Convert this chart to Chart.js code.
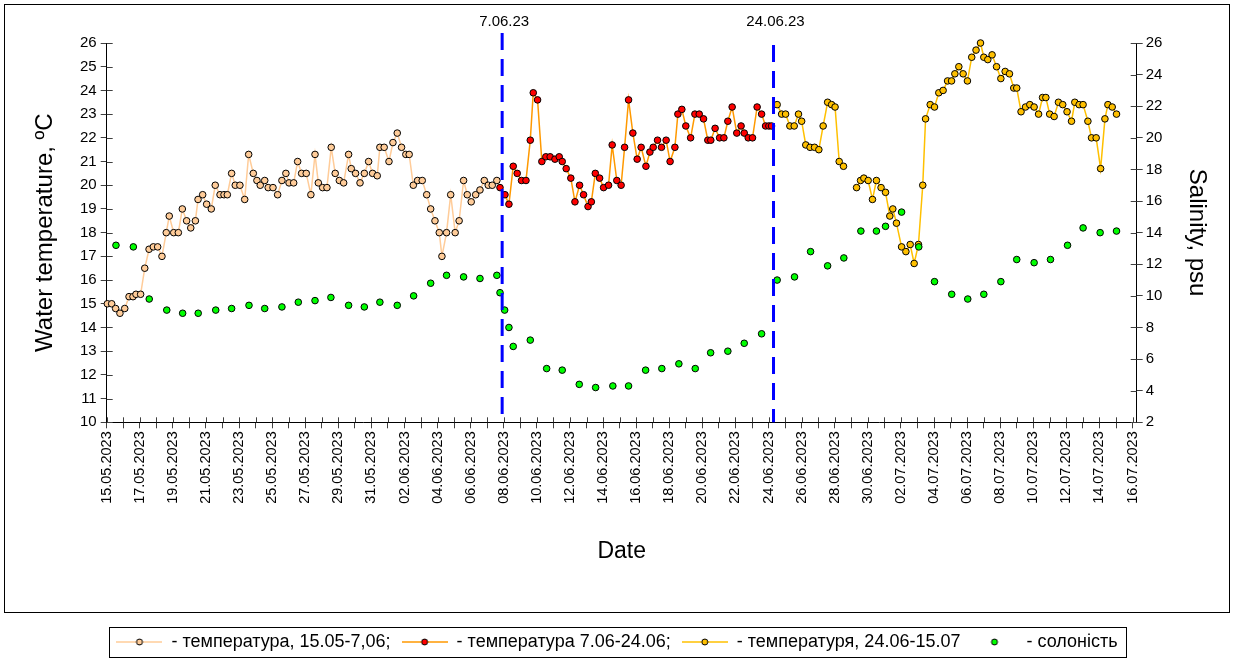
<!DOCTYPE html>
<html>
<head>
<meta charset="utf-8">
<script src="https://cdn.jsdelivr.net/npm/chart.js@4.4.1/dist/chart.umd.min.js"></script>
<style>
  html, body { margin: 0; padding: 0; background: #fff; }
  canvas { display: block; }
</style>
</head>
<body>
<canvas id="chart" width="1234" height="661"></canvas>
<script>
// Water temperature & salinity, 15.05 - 15.07.2023
// x values are days counted from 15.05.2023

// temperature, 15.05 - 7.06
const days1 = [0.04, 0.30, 0.54, 0.80, 1.09, 1.35, 1.59, 1.77, 2.05, 2.30, 2.56, 2.82, 3.08, 3.34, 3.60, 3.78,
  4.05, 4.33, 4.57, 4.83, 5.08, 5.36, 5.52, 5.80, 6.04, 6.32, 6.56, 6.85, 7.09, 7.29, 7.55, 7.77,
  8.05, 8.34, 8.58, 8.86, 9.08, 9.28, 9.55, 9.76, 10.05, 10.33, 10.59, 10.83, 11.02, 11.30, 11.54, 11.78,
  12.06, 12.34, 12.59, 12.79, 13.05, 13.31, 13.57, 13.81, 14.06, 14.32, 14.62, 14.78, 15.04, 15.31, 15.57, 15.83,
  16.07, 16.35, 16.51, 16.77, 17.06, 17.30, 17.56, 17.82, 18.08, 18.28, 18.53, 18.79, 19.07, 19.34, 19.58, 19.84,
  20.10, 20.26, 20.54, 20.79, 21.06, 21.30, 21.57, 21.79, 22.03, 22.30, 22.56, 22.82, 23.06, 23.30, 23.58];
const temp1 = [15.0, 15.0, 14.8, 14.6, 14.8, 15.3, 15.3, 15.4, 15.4, 16.5, 17.3, 17.4, 17.4, 17.0, 18.0, 18.7,
  18.0, 18.0, 19.0, 18.5, 18.2, 18.5, 19.4, 19.6, 19.2, 19.0, 20.0, 19.6, 19.6, 19.6, 20.5, 20.0,
  20.0, 19.4, 21.3, 20.5, 20.2, 20.0, 20.2, 19.9, 19.9, 19.6, 20.2, 20.5, 20.1, 20.1, 21.0, 20.5,
  20.5, 19.6, 21.3, 20.1, 19.9, 19.9, 21.6, 20.5, 20.2, 20.1, 21.3, 20.7, 20.5, 20.1, 20.5, 21.0,
  20.5, 20.4, 21.6, 21.6, 21.0, 21.8, 22.2, 21.6, 21.3, 21.3, 20.0, 20.2, 20.2, 19.6, 19.0, 18.5,
  18.0, 17.0, 18.0, 19.6, 18.0, 18.5, 20.2, 19.6, 19.3, 19.6, 19.8, 20.2, 20.0, 20.0, 20.2];

// temperature, 7.06 - 24.06
const days2 = [23.77, 24.07, 24.31, 24.57, 24.81, 25.07, 25.34, 25.60, 25.78, 26.04, 26.30, 26.54, 26.80, 27.09,
  27.35, 27.53, 27.77, 28.05, 28.30, 28.58, 28.82, 29.09, 29.29, 29.53, 29.79, 30.03, 30.33, 30.55, 30.83,
  31.09, 31.30, 31.54, 31.80, 32.06, 32.30, 32.59, 32.83, 33.03, 33.29, 33.53, 33.81, 34.05, 34.34, 34.52,
  34.76, 35.00, 35.29, 35.55, 35.81, 36.07, 36.33, 36.51, 36.77, 37.04, 37.30, 37.54, 37.80, 38.08, 38.34,
  38.53, 38.77, 39.03, 39.31, 39.58, 39.82, 40.02, 40.18];
const temp2 = [19.9, 19.6, 19.2, 20.8, 20.5, 20.2, 20.2, 21.9, 23.9, 23.6, 21.0, 21.2, 21.2, 21.1,
  21.2, 21.0, 20.7, 20.3, 19.3, 20.0, 19.6, 19.1, 19.3, 20.5, 20.3, 19.9, 20.0, 21.7, 20.2,
  20.0, 21.6, 23.6, 22.2, 21.1, 21.6, 20.8, 21.4, 21.6, 21.9, 21.6, 21.9, 21.0, 21.6, 23.0,
  23.2, 22.5, 22.0, 23.0, 23.0, 22.8, 21.9, 21.9, 22.4, 22.0, 22.0, 22.7, 23.3, 22.2, 22.5,
  22.2, 22.0, 22.0, 23.3, 23.0, 22.5, 22.5, 22.5];

// temperature, 24.06 - 15.07
const days3 = [40.52, 40.79, 41.03, 41.29, 41.55, 41.81, 42.00, 42.25, 42.51, 42.78, 43.04, 43.30, 43.57, 43.81,
  44.02, 44.27, 44.53, 45.32, 45.56, 45.76, 46.02, 46.28, 46.52, 46.80, 47.07, 47.33, 47.51, 47.73, 48.04,
  48.30, 48.56, 48.80, 49.06, 49.32, 49.49, 49.77, 50.03, 50.29, 50.55, 50.82, 51.06, 51.26, 51.50, 51.76,
  52.02, 52.28, 52.54, 52.81, 53.01, 53.25, 53.51, 53.78, 54.04, 54.30, 54.56, 54.82, 55.00, 55.26, 55.53,
  55.79, 56.05, 56.32, 56.56, 56.76, 56.99, 57.26, 57.52, 57.78, 58.04, 58.31, 58.51, 58.77, 59.01, 59.30,
  59.52, 59.80, 60.07, 60.33, 60.51, 60.77, 61.03];
const temp3 = [23.4, 23.0, 23.0, 22.5, 22.5, 23.0, 22.7, 21.7, 21.6, 21.6, 21.5, 22.5, 23.5, 23.4,
  23.3, 21.0, 20.8, 19.9, 20.2, 20.3, 20.2, 19.4, 20.2, 19.9, 19.7, 18.7, 19.0, 18.4, 17.4,
  17.2, 17.5, 16.7, 17.5, 20.0, 22.8, 23.4, 23.3, 23.9, 24.0, 24.4, 24.4, 24.7, 25.0, 24.7,
  24.4, 25.4, 25.7, 26.0, 25.4, 25.3, 25.5, 25.0, 24.5, 24.8, 24.7, 24.1, 24.1, 23.1, 23.3,
  23.4, 23.3, 23.0, 23.7, 23.7, 23.0, 22.9, 23.5, 23.4, 23.1, 22.7, 23.5, 23.4, 23.4, 22.7,
  22.0, 22.0, 20.7, 22.8, 23.4, 23.3, 23.0];

// salinity, psu
const salDays = [0.56, 1.61, 2.57, 3.63, 4.59, 5.53, 6.59, 7.55, 8.60, 9.55, 10.59, 11.58, 12.59, 13.55, 14.62,
  15.57, 16.51, 17.56, 18.55, 19.58, 20.54, 21.57, 22.56, 23.58, 23.77, 24.05, 24.31, 24.57, 25.60, 26.59,
  27.53, 28.56, 29.55, 30.59, 31.54, 32.57, 33.55, 34.58, 35.57, 36.50, 37.54, 38.53, 39.58, 40.52, 41.57,
  42.54, 43.57, 44.55, 45.58, 46.52, 47.07, 48.04, 49.08, 50.03, 51.07, 52.04, 53.01, 54.04, 55.00, 56.05,
  57.04, 58.07, 59.01, 60.04, 61.03];
const salinity = [13.2, 13.1, 9.8, 9.1, 8.9, 8.9, 9.1, 9.2, 9.4, 9.2, 9.3, 9.6, 9.7, 9.9, 9.4,
  9.3, 9.6, 9.4, 10.0, 10.8, 11.3, 11.2, 11.1, 11.3, 10.2, 9.1, 8.0, 6.8, 7.2, 5.4,
  5.3, 4.4, 4.2, 4.3, 4.3, 5.3, 5.4, 5.7, 5.4, 6.4, 6.5, 7.0, 7.6, 11.0, 11.2,
  12.8, 11.9, 12.4, 14.1, 14.1, 14.4, 15.3, 13.1, 10.9, 10.1, 9.8, 10.1, 10.9, 12.3, 12.1,
  12.3, 13.2, 14.3, 14.0, 14.1];

// x axis: one tick per day, a label every second day
const dayTicks = Array.from({length: 63}, (_, i) => i);
const dateLabels = ['15.05.2023', '17.05.2023', '19.05.2023', '21.05.2023', '23.05.2023', '25.05.2023',
  '27.05.2023', '29.05.2023', '31.05.2023', '02.06.2023', '04.06.2023', '06.06.2023', '08.06.2023',
  '10.06.2023', '12.06.2023', '14.06.2023', '16.06.2023', '18.06.2023', '20.06.2023', '22.06.2023',
  '24.06.2023', '26.06.2023', '28.06.2023', '30.06.2023', '02.07.2023', '04.07.2023', '06.07.2023',
  '08.07.2023', '10.07.2023', '12.07.2023', '14.07.2023', '16.07.2023'];

// period boundaries
const markerDays = [23.9, 40.3];
const markerLabels = ['7.06.23', '24.06.23'];

const seriesLabels = ['- температура, 15.05-7,06;', '- температура 7.06-24.06;',
  '- температуря, 24.06-15.07', '- солоність'];

const FONT = '"Liberation Sans", Arial, sans-serif';
Chart.defaults.font.family = FONT;
Chart.defaults.color = '#000';

const toPoints = (xs, ys) => xs.map((x, i) => ({x: x, y: ys[i]}));

function legendIcon(line, fill) {
    const c = document.createElement('canvas');
    c.width = 46;
    c.height = 10;
    const g = c.getContext('2d');
    if (line) {
        g.strokeStyle = line;
        g.lineWidth = 1.5;
        g.beginPath();
        g.moveTo(0, 5);
        g.lineTo(46, 5);
        g.stroke();
    }
    g.fillStyle = fill;
    g.strokeStyle = '#000';
    g.lineWidth = 1;
    g.beginPath();
    g.arc(23, 5, 3, 0, Math.PI * 2);
    g.fill();
    g.stroke();
    return c;
}

const legendIcons = [
    legendIcon('#FFCC99', '#FFCC99'),
    legendIcon('#FF9900', '#FF0000'),
    legendIcon('#FFC000', '#FFC000'),
    legendIcon(null, '#00FF00')
];

// break the line where a day is missing
const gapColor = c => (c.p1.parsed.x - c.p0.parsed.x > 0.5 ? 'rgba(0,0,0,0)' : undefined);

function tempDataset(label, xs, ys, line, fill, width) {
    return {
        label: label,
        data: toPoints(xs, ys),
        yAxisID: 'y',
        borderColor: line,
        borderWidth: width,
        backgroundColor: fill,
        pointBackgroundColor: fill,
        pointBorderColor: '#000',
        pointBorderWidth: 1,
        pointRadius: 3.3,
        tension: 0,
        clip: false,
        order: 1,
        segment: {borderColor: gapColor}
    };
}

// short tick marks on the inner side of the axes
const innerTicks = {
    id: 'innerTicks',
    beforeDatasetsDraw(chart) {
        const {ctx, chartArea: a, scales} = chart;
        ctx.save();
        ctx.strokeStyle = '#404040';
        ctx.lineWidth = 1;
        ctx.beginPath();
        scales.x.ticks.forEach(t => {
            const p = Math.round(scales.x.getPixelForValue(t.value)) + 0.5;
            ctx.moveTo(p, a.bottom);
            ctx.lineTo(p, a.bottom - 5);
        });
        scales.y.ticks.forEach(t => {
            const p = Math.round(scales.y.getPixelForValue(t.value)) + 0.5;
            ctx.moveTo(a.left, p);
            ctx.lineTo(a.left + 6, p);
        });
        scales.y2.ticks.forEach(t => {
            const p = Math.round(scales.y2.getPixelForValue(t.value)) + 0.5;
            ctx.moveTo(a.right, p);
            ctx.lineTo(a.right - 6, p);
        });
        ctx.stroke();
        ctx.restore();
    }
};

// dashed blue lines for the period limits
const markers = {
    id: 'markers',
    afterDatasetsDraw(chart) {
        const {ctx, chartArea: a, scales: {x}} = chart;
        const tops = [a.top - 10, a.top + 2];
        ctx.save();
        markerDays.forEach((d, i) => {
            const px = x.getPixelForValue(d);
            ctx.strokeStyle = '#0000FF';
            ctx.lineWidth = 3;
            ctx.setLineDash([17, 9]);
            ctx.beginPath();
            ctx.moveTo(px, tops[i]);
            ctx.lineTo(px, a.bottom);
            ctx.stroke();
            ctx.setLineDash([]);
            ctx.fillStyle = '#000';
            ctx.font = '15px ' + FONT;
            ctx.textAlign = 'center';
            ctx.textBaseline = 'middle';
            ctx.fillText(markerLabels[i], px + 2, 22);
        });
        ctx.restore();
    }
};

// outer frame and the box round the legend
const frames = {
    id: 'frames',
    afterDraw(chart) {
        const {ctx, legend} = chart;
        ctx.save();
        ctx.strokeStyle = '#000';
        ctx.lineWidth = 1;
        ctx.strokeRect(4.5, 4.5, chart.width - 9, 608);
        const hb = legend.legendHitBoxes;
        const last = hb[hb.length - 1];
        const l = Math.round(hb[0].left - 7) + 0.5;
        const r = Math.round(last.left + last.width + 8) + 0.5;
        const cy = Math.round(hb[0].top + hb[0].height / 2);
        ctx.strokeRect(l, cy - 14.5, r - l, 30);
        ctx.restore();
    }
};

const ctx = document.getElementById('chart').getContext('2d');

new Chart(ctx, {
    type: 'line',
    data: {
        datasets: [
            tempDataset(seriesLabels[0], days1, temp1, '#FFCC99', '#FFCC99', 1.5),
            tempDataset(seriesLabels[1], days2, temp2, '#FF9900', '#FF0000', 1.5),
            tempDataset(seriesLabels[2], days3, temp3, '#FFC000', '#FFC000', 1.5),
            {
                label: seriesLabels[3],
                data: toPoints(salDays, salinity),
                yAxisID: 'y2',
                showLine: false,
                backgroundColor: '#00FF00',
                pointBackgroundColor: '#00FF00',
                pointBorderColor: '#000',
                pointBorderWidth: 1,
                pointRadius: 3.3,
                clip: false,
                order: 0
            }
        ]
    },
    options: {
        responsive: false,
        animation: false,
        layout: {
            padding: {left: 0, right: 0, top: 43, bottom: 0}
        },
        plugins: {
            tooltip: {enabled: false},
            legend: {
                position: 'bottom',
                labels: {
                    usePointStyle: true,
                    pointStyleWidth: 46,
                    boxHeight: 10,
                    padding: 11,
                    color: '#000',
                    font: {size: 18},
                    sort: (a, b) => a.datasetIndex - b.datasetIndex,
                    generateLabels: chart => Chart.defaults.plugins.legend.labels.generateLabels(chart)
                        .map(item => Object.assign(item, {pointStyle: legendIcons[item.datasetIndex]}))
                }
            }
        },
        scales: {
            x: {
                type: 'linear',
                min: 0,
                max: 62.25,
                afterBuildTicks: s => { s.ticks = dayTicks.map(v => ({value: v})); },
                afterFit: s => { s.height = 199.7; },
                ticks: {
                    autoSkip: false,
                    maxRotation: 90,
                    minRotation: 90,
                    padding: 3,
                    font: {size: 14.5},
                    callback: v => (v % 2 === 0 ? dateLabels[v / 2] : '')
                },
                grid: {drawOnChartArea: false, tickLength: 6, color: '#404040'},
                border: {color: '#000', width: 1},
                title: {display: true, text: 'Date', font: {size: 23}, padding: {top: 0, bottom: 57}}
            },
            y: {
                position: 'left',
                min: 10,
                max: 26,
                afterFit: s => { s.width = 106.7; },
                ticks: {stepSize: 1, padding: 4, font: {size: 15}},
                grid: {drawOnChartArea: false, tickLength: 6, color: '#404040'},
                border: {color: '#000', width: 1},
                title: {display: true, text: 'Water temperature, ºC', font: {size: 24}, padding: {top: 30.6, bottom: 0}}
            },
            y2: {
                position: 'right',
                min: 2,
                max: 26,
                afterFit: s => { s.width = 97.3; },
                ticks: {stepSize: 2, padding: 3, font: {size: 15}},
                grid: {drawOnChartArea: false, tickLength: 6, color: '#404040'},
                border: {color: '#000', width: 1},
                title: {display: true, text: 'Salinity, psu', font: {size: 24}, padding: {top: 22.6, bottom: 0}}
            }
        }
    },
    plugins: [innerTicks, markers, frames]
});
</script>
</body>
</html>
